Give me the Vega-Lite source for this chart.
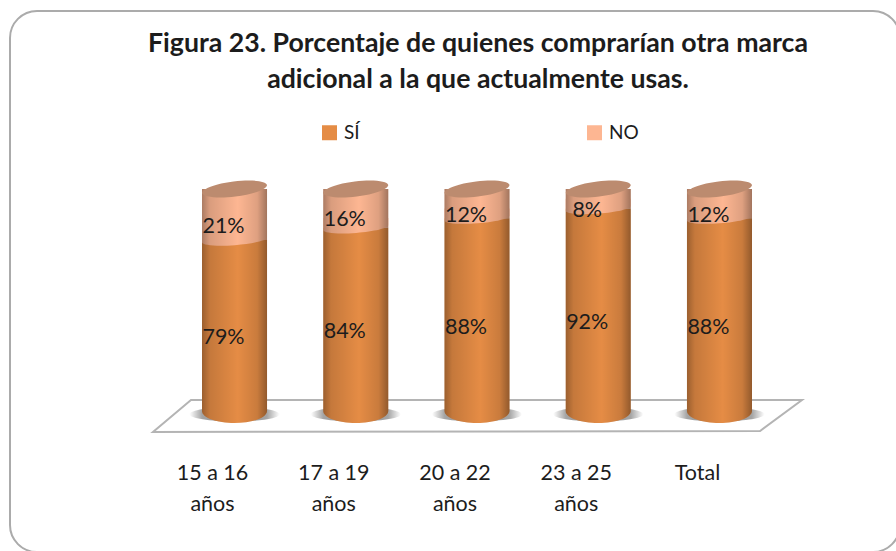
{
"$schema":"https://vega.github.io/schema/vega-lite/v6.json",
"width":890,"height":541,"autosize":"none","padding":{"left":10,"top":11,"right":0,"bottom":0},
"background":"white",
"view":{"stroke":"#ABABAB","strokeWidth":2,"cornerRadius":27,"fill":"white"},
"title":{"text":["Figura 23. Porcentaje de quienes comprarían otra marca","adicional a  la que actualmente usas."],"font":"Lato","fontWeight":"bold","fontSize":26.7,"color":"#1c1c1c","lineHeight":36,"anchor":"middle","frame":"group","orient":"top","offset":0,"dx":23,"dy":83},
"data":{"values":[
{"grupo":"15 a 16 años","serie":"SÍ","valor":0.79},{"grupo":"15 a 16 años","serie":"NO","valor":0.21},
{"grupo":"17 a 19 años","serie":"SÍ","valor":0.84},{"grupo":"17 a 19 años","serie":"NO","valor":0.16},
{"grupo":"20 a 22 años","serie":"SÍ","valor":0.88},{"grupo":"20 a 22 años","serie":"NO","valor":0.12},
{"grupo":"23 a 25 años","serie":"SÍ","valor":0.92},{"grupo":"23 a 25 años","serie":"NO","valor":0.08},
{"grupo":"Total","serie":"SÍ","valor":0.88},{"grupo":"Total","serie":"NO","valor":0.12}
]},
"encoding":{"x":{"field":"grupo","type":"nominal","sort":null,"scale":{"domain":["15 a 16 años","17 a 19 años","20 a 22 años","23 a 25 años","Total"],"range":[192,742],"paddingInner":0.4636,"paddingOuter":0},
"axis":{"title":null,"orient":"bottom","domain":false,"ticks":false,"labelAngle":0,"labelFont":"Lato","labelFontSize":21.5,"labelColor":"#1c1c1c","labelOffset":-22,"labelPadding":-90,"labelLineHeight":31,"labelBaseline":"top","labelExpr":"datum.label=='Total' ? 'Total' : [replace(datum.label,' años',''),'años']"}}},
"layer":[
{"transform":[{"filter":"datum.grupo=='20 a 22 años' && datum.serie=='SÍ'"}],
 "mark":{"type":"point","filled":true,"fill":"white","fillOpacity":1,"opacity":1,"stroke":"#B4B4B4","strokeWidth":2,"size":422500,"shape":"M-0.997,0.0646 L-0.88,-0.0338 L1,-0.0338 L0.871,0.0615 Z"},
 "encoding":{"y":{"datum":0,"type":"quantitative","scale":{"domain":[0,0.79,1],"range":[400,229,178]},"axis":null}}},
{"transform":[{"filter":"datum.serie=='SÍ'"}],
 "mark":{"type":"point","filled":true,"opacity":1,"strokeWidth":0,"size":8100,"shape":"M-1,0.07 A1,0.16,0,1,1,1,0.07 A1,0.16,0,1,1,-1,0.07 Z",
 "fill":{"gradient":"radial","x1":0.5,"y1":0.5,"r1":0,"x2":0.5,"y2":0.5,"r2":0.5,"stops":[{"offset":0,"color":"#8c8c8c"},{"offset":0.72,"color":"#a4a4a4"},{"offset":1,"color":"#ffffff"}]}},
 "encoding":{"y":{"datum":0,"type":"quantitative"}}},
{"mark":{"type":"bar"},
 "encoding":{"y":{"field":"valor","type":"quantitative","stack":"zero"},
 "color":{"field":"serie","type":"nominal","scale":{"domain":["SÍ","NO"],"range":["#E58C45","#FDB692"]},
 "legend":{"orient":"none","legendX":310,"legendY":112,"direction":"horizontal","columns":2,"title":null,"symbolType":"square","symbolSize":225,"symbolStrokeWidth":0,"labelFont":"Lato","labelFontSize":19,"labelColor":"#1c1c1c","labelOffset":5,"columnPadding":225,"padding":0}}}},
{"transform":[{"filter":"datum.serie=='SÍ'"}],
 "mark":{"type":"point","filled":true,"opacity":1,"strokeWidth":0,"fill":"#FDB692","size":4225,"shape":"M-1,0.077 A1.003,0.16,-4.4,0,0,1,-0.077 L1,-0.3 L-1,-0.3 Z"},
 "encoding":{"y":{"field":"valor","type":"quantitative"}}},
{"transform":[{"filter":"datum.serie=='SÍ'"}],
 "mark":{"type":"point","filled":true,"opacity":1,"strokeWidth":0,"fill":"#E58C45","size":4225,"shape":"M-1,0 A1,0.37,0,0,0,1,0 Z"},
 "encoding":{"y":{"datum":0,"type":"quantitative"}}},
{"transform":[{"filter":"datum.serie=='SÍ'"}],
 "mark":{"type":"point","filled":true,"opacity":1,"strokeWidth":0,"size":4225,"shape":"M-1,0 A1,0.37,0,0,0,1,0 Z",
 "fill":{"gradient":"linear","x1":0,"y1":0,"x2":1,"y2":0,"stops":[{"offset":0,"color":"rgba(0,0,0,0.32)"},{"offset":0.12,"color":"rgba(0,0,0,0.14)"},{"offset":0.55,"color":"rgba(0,0,0,0)"},{"offset":0.85,"color":"rgba(0,0,0,0.12)"},{"offset":1,"color":"rgba(0,0,0,0.36)"}]}},
 "encoding":{"y":{"datum":0,"type":"quantitative"}}},
{"transform":[{"filter":"datum.serie=='SÍ'"}],
 "mark":{"type":"bar","fill":{"gradient":"linear","x1":0,"y1":0,"x2":1,"y2":0,"stops":[{"offset":0,"color":"rgba(0,0,0,0.32)"},{"offset":0.12,"color":"rgba(0,0,0,0.14)"},{"offset":0.55,"color":"rgba(0,0,0,0)"},{"offset":0.85,"color":"rgba(0,0,0,0.12)"},{"offset":1,"color":"rgba(0,0,0,0.36)"}]}},
 "encoding":{"y":{"datum":0,"type":"quantitative"},"y2":{"datum":1}}},
{"transform":[{"filter":"datum.serie=='SÍ'"}],
 "mark":{"type":"point","filled":true,"opacity":1,"strokeWidth":0,"fill":"#BC8B6F","size":4225,"shape":"M-1,0.123 A1.008,0.24,-7,0,1,1,-0.123 A1.008,0.24,-7,0,1,-1,0.123 Z"},
 "encoding":{"y":{"datum":1,"type":"quantitative"}}},
{"transform":[{"stack":"valor","groupby":["grupo"],"sort":[{"field":"serie","order":"descending"}],"as":["y0","y1"]},{"calculate":"(datum.y0+datum.y1)/2","as":"medio"}],
 "mark":{"type":"text","font":"Lato","fontSize":21.5,"color":"#1c1c1c","dx":-11,"dy":12},
 "encoding":{"y":{"field":"medio","type":"quantitative"},"text":{"field":"valor","type":"quantitative","format":".0%"}}}
]
}
